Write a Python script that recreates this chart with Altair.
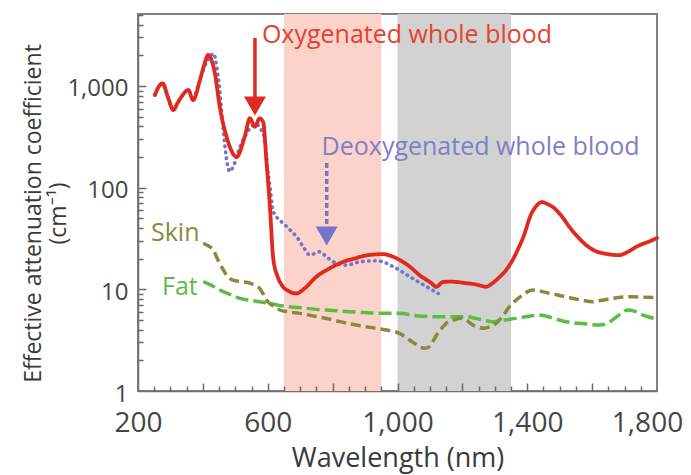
import altair as alt
import pandas as pd

# ---------------- data ----------------
wl_oxy = [252, 262, 276, 292, 309, 322, 334, 355, 370, 391, 405, 416, 428, 437, 452, 473, 504, 529,
          545, 560, 575, 586, 596, 606, 617, 630, 645, 665, 688, 715, 750, 790, 830, 870, 910, 955,
          985, 1010, 1040, 1070, 1100, 1120, 1140, 1165, 1211, 1240, 1273, 1290, 1310, 1335, 1355,
          1372, 1390, 1410, 1428, 1445, 1462, 1480, 1505, 1530, 1555, 1581, 1610, 1640, 1683, 1710,
          1740, 1770, 1800]
mu_oxy = [813, 960, 1060, 780, 580, 680, 783, 912, 727, 1143, 1650, 2013, 1750, 1330, 625, 317, 201, 317,
          480, 397, 480, 440, 180, 70, 20, 13.5, 10.8, 9.6, 9.1, 10.3, 13.3, 16, 18.5, 20.2, 21.7, 22.2,
          21, 19.2, 16.5, 13.6, 11.8, 10.6, 11.8, 11.9, 11.5, 11.2, 10.6, 11.3, 12.8, 15.5, 19.4,
          25, 34, 53, 66, 72, 69, 64, 53, 41, 33, 27.3, 23.8, 22.4, 21.7, 23.3,
          26.6, 29, 32]

wl_deoxy = [252, 262, 276, 292, 309, 322, 334, 355, 370, 385, 400, 415, 425, 433, 442, 452, 462, 472,
            483, 495, 510, 530, 550, 565, 580, 591, 600, 607, 616, 630, 648, 670, 689, 710, 730, 745,
            761, 780, 802, 843, 884, 936, 987, 1038, 1090, 1126]
mu_deoxy = [813, 960, 1060, 780, 580, 680, 783, 912, 760, 1000, 1400, 1800, 2000, 2090, 1600, 900, 400, 200,
            144, 165, 230, 320, 400, 420, 370, 294, 150, 102, 60, 50, 44.6, 38, 32.9, 26, 21.7, 22.5,
            23.4, 21, 18.7, 17.3, 18.7, 19.1, 16.7, 13.3, 10.6, 9.1]

wl_skin = [401, 415, 432, 448, 463, 478, 493, 520, 545, 562, 575, 586, 596, 615, 637, 665, 698, 750,
           801, 850, 903, 965, 1006, 1037, 1060, 1083, 1100, 1119, 1135, 1150, 1175, 1196, 1215, 1232,
           1268, 1285, 1304, 1325, 1345, 1365, 1386, 1416, 1440, 1468, 1500, 1540, 1570, 1601, 1630,
           1663, 1700, 1724, 1760, 1800]
mu_skin = [28.3, 27, 24.3, 19, 15.5, 13.2, 12.3, 11.9, 11.5, 10.9, 10.2, 9, 7.85, 6.9, 6.26, 6.0, 5.8, 5.4,
           5.0, 4.6, 4.29, 3.98, 3.69, 3.17, 2.85, 2.63, 2.75, 3.5, 4.1, 4.63, 5.0, 5.18, 4.9, 4.46,
           4.14, 4.3, 4.63, 5.5, 6.74, 7.8, 8.79, 9.84, 9.6, 9.13, 8.7, 8.15, 7.8, 7.55, 7.8,
           8.15, 8.4, 8.46, 8.35, 8.3]

wl_fat = [401, 425, 452, 480, 514, 545, 575, 610, 647, 700, 750, 800, 852, 900, 955, 1006, 1057, 1109,
          1150, 1211, 1250, 1294, 1330, 1365, 1400, 1437, 1480, 1519, 1570, 1622, 1645, 1663, 1690,
          1709, 1730, 1745, 1770, 1800]
mu_fat = [11.9, 11, 9.84, 9, 8.15, 7.8, 7.55, 7.2, 6.85, 6.6, 6.35, 6.2, 6.02, 5.9, 5.8, 5.8, 5.5, 5.38,
          5.38, 5.38, 5.1, 4.8, 5.0, 5.18, 5.4, 5.59, 5.2, 4.8, 4.6, 4.46, 4.6, 5.0, 5.8,
          6.26, 6.1, 5.8, 5.4, 5.1]

band_start = [650, 1000]
band_end = [950, 1350]
band_color = ["#fbd3ca", "#d2d2d2"]

x_label_values = [200, 600, 1000, 1400, 1800]
y_label_values = [1, 10, 100, 1000]
x_major_ticks = list(range(400, 1800, 200))
x_minor_ticks = [v for v in range(250, 1800, 50) if v % 200 != 0]
y_major_ticks = [10, 100, 1000]
y_minor_ticks = [m * 10 ** k for k in range(0, 4) for m in range(2, 10) if m * 10 ** k <= 5000]

label_text = ["Oxygenated whole blood", "Deoxygenated whole blood", "Skin", "Fat"]
label_x = [582, 766, 240, 274]
label_y = [2650, 209, 29.9, 8.8]
label_color = ["#e2432f", "#7d80c6", "#8a8a3c", "#5dbb47"]

arrow_x = [560.6, 781.7]
arrow_top = [2965, 175]
arrow_head = [636, 33.5]
arrow_color = ["#e02a1f", "#7276c8"]

# ---------------- build ----------------
RED = "#e02a1f"
BLUE = "#7276c8"
OLIVE = "#8a8a3c"
GREEN = "#5cbd45"
FONT = "Open Sans"

xs = alt.Scale(domain=[200, 1800], nice=False, zero=False)
ys = alt.Scale(type="log", domain=[1, 5100], nice=False)

x_main = alt.Axis(orient="bottom", values=x_label_values, format=",d", ticks=False, grid=False,
                  domain=True, domainColor="#707070", domainWidth=1.5,
                  labelFontSize=28, labelColor="#454545", labelPadding=18, labelFont=FONT,
                  labelOverlap=False, labelFlush=False,
                  labelOffset=alt.ConditionalAxisNumber(
                      condition={"test": "datum.value == 1800", "value": -10}, value=0),
                  title="Wavelength (nm)", titleFontSize=27, titleFont=FONT, titleFontWeight="normal",
                  titleColor="#3a3a3a", titleBaseline="alphabetic", titleY=75)
y_main = alt.Axis(orient="left", values=y_label_values, format=",d", ticks=False, grid=False,
                  domain=True, domainColor="#707070", domainWidth=1.5,
                  labelFontSize=24, labelColor="#454545", labelPadding=10, labelOffset=3, labelFont=FONT,
                  labelOverlap=False, labelFlush=False,
                  title=["Effective attenuation coefficient", "(cm\u207b\u00b9)"], titleFontSize=23,
                  titleFont=FONT, titleFontWeight="normal", titleColor="#3a3a3a",
                  titleAngle=-90, titleAlign="center", titleBaseline="alphabetic",
                  titleX=-98, titleY=199, titleLineHeight=25)


def tick_axis(orient, values, size):
    return alt.Axis(orient=orient, values=values, labels=False, domain=False, grid=False,
                    ticks=True, tickSize=size, offset=-size, tickColor="#6a6a6a", tickWidth=1.5,
                    title=None, zindex=2)


bands_df = pd.DataFrame({"start": band_start, "end": band_end, "lo": [1, 1], "hi": [5100, 5100],
                         "color": band_color})
bands = alt.Chart(bands_df).mark_rect().encode(
    x=alt.X("start:Q", scale=xs, axis=x_main),
    x2="end:Q",
    y=alt.Y("lo:Q", scale=ys, axis=y_main),
    y2="hi:Q",
    color=alt.Color("color:N", scale=None),
)


def series(wl, mu, color, width, dash, xaxis, yaxis, cap="butt"):
    df = pd.DataFrame({"wl": wl, "mu": mu})
    return alt.Chart(df).mark_line(color=color, strokeWidth=width, strokeDash=dash,
                                   strokeCap=cap, interpolate="monotone").encode(
        x=alt.X("wl:Q", scale=xs, axis=xaxis),
        y=alt.Y("mu:Q", scale=ys, axis=yaxis),
        order="wl:Q",
    )


fat = series(wl_fat, mu_fat, GREEN, 3.5, [13, 5],
             tick_axis("bottom", x_major_ticks, 8), tick_axis("left", y_major_ticks, 8))
skin = series(wl_skin, mu_skin, OLIVE, 3.5, [10, 5],
              tick_axis("bottom", x_minor_ticks, 5), tick_axis("left", y_minor_ticks, 5))
deoxy = series(wl_deoxy, mu_deoxy, BLUE, 3.6, [0.5, 5.5], None, None, cap="round")
oxy = series(wl_oxy, mu_oxy, RED, 3.8, [1, 0], None, None, cap="round")

arrows_df = pd.DataFrame({"x": arrow_x, "top": arrow_top, "head": arrow_head, "color": arrow_color})
shaft_red = alt.Chart(arrows_df.iloc[[0]]).mark_rule(strokeWidth=3.5, color=RED).encode(
    x=alt.X("x:Q", scale=xs, axis=None), y=alt.Y("top:Q", scale=ys, axis=None), y2="head:Q")
shaft_blue = alt.Chart(arrows_df.iloc[[1]]).mark_rule(strokeWidth=3.5, color=BLUE,
                                                      strokeDash=[5, 3]).encode(
    x=alt.X("x:Q", scale=xs, axis=None), y=alt.Y("top:Q", scale=ys, axis=None), y2="head:Q")
heads = alt.Chart(arrows_df).mark_point(shape="triangle-down", filled=True, size=480,
                                        opacity=1).encode(
    x=alt.X("x:Q", scale=xs, axis=None),
    y=alt.Y("head:Q", scale=ys, axis=None),
    color=alt.Color("color:N", scale=None),
)

labels_df = pd.DataFrame({"text": label_text, "x": label_x, "y": label_y, "color": label_color})
labels = alt.Chart(labels_df).mark_text(align="left", baseline="alphabetic", font=FONT,
                                        fontSize=25).encode(
    x=alt.X("x:Q", scale=xs, axis=None),
    y=alt.Y("y:Q", scale=ys, axis=None),
    text="text:N",
    color=alt.Color("color:N", scale=None),
)

chart = alt.layer(bands, fat, skin, deoxy, oxy, shaft_red, shaft_blue, heads, labels).resolve_axis(
    x="independent", y="independent"
).properties(
    width=519, height=377,
    autosize=alt.AutoSizeParams(type="none"),
    padding={"left": 130, "top": 6, "right": 26, "bottom": 84},
).configure_view(stroke="#808080", strokeWidth=2)

chart.save("out.html", embed_options={"renderer": "svg", "actions": False})
